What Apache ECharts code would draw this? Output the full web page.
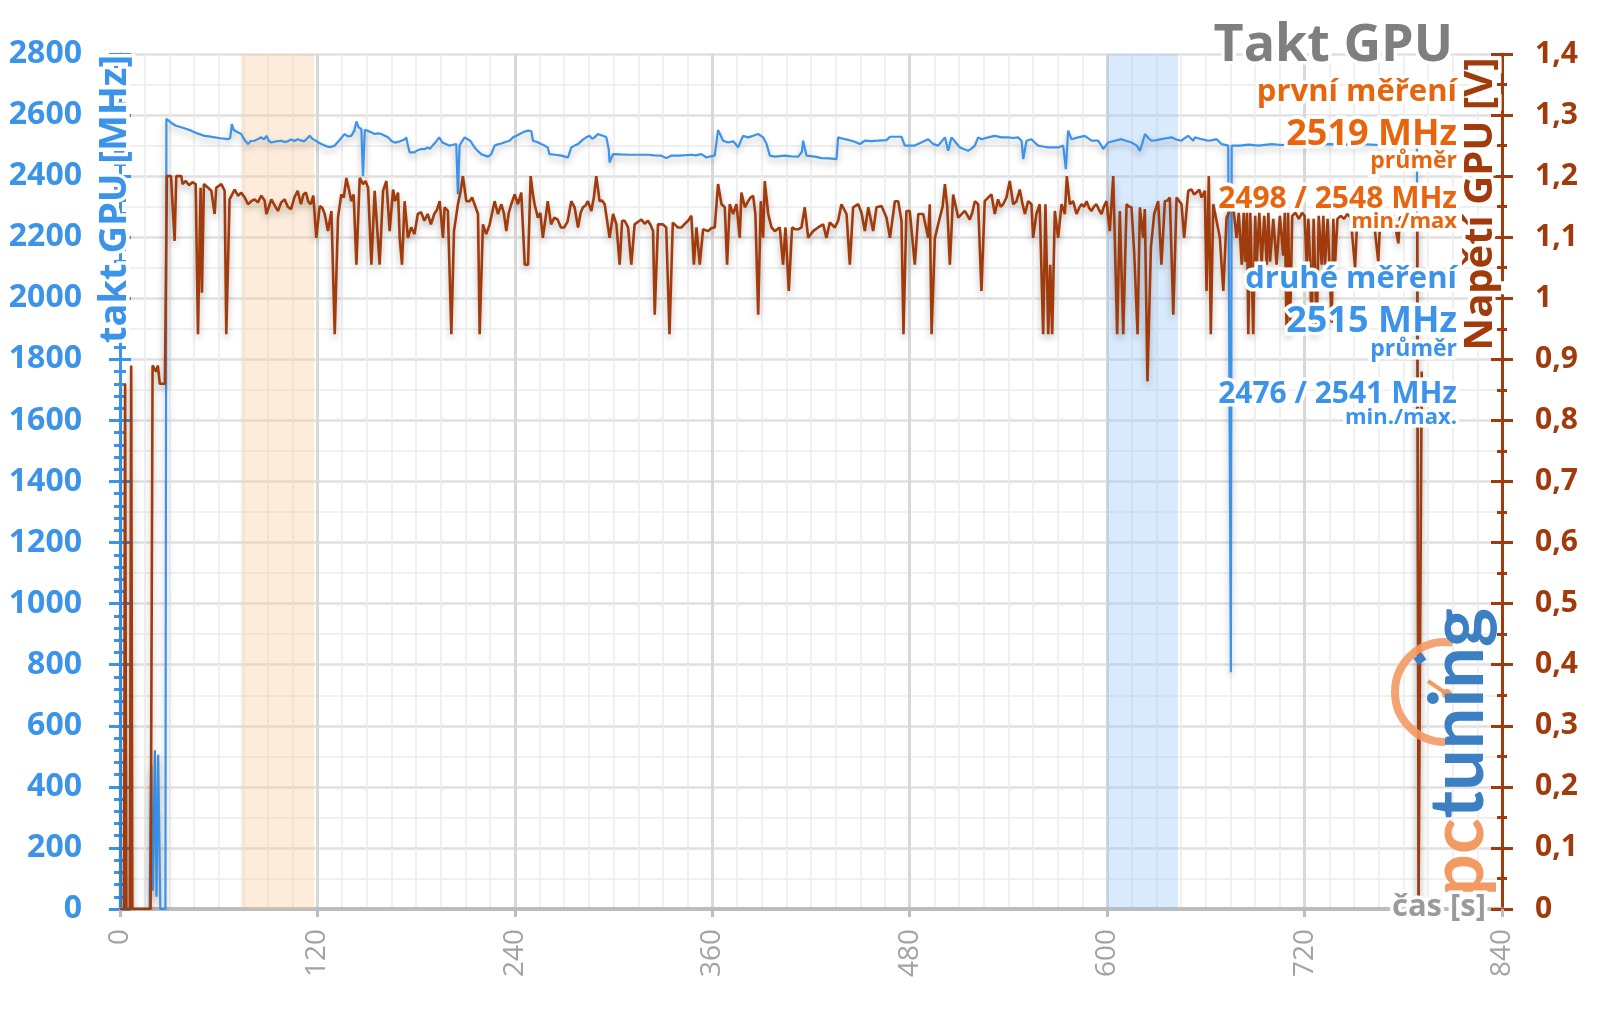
<!DOCTYPE html>
<html><head><meta charset="utf-8">
<script src="https://cdn.jsdelivr.net/npm/echarts@6/dist/echarts.min.js"></script>
<style>html,body{margin:0;padding:0;background:#fff}#c{width:1600px;height:1009px}</style>
</head><body><div id="c"></div>
<script>
// ---- data (time [s], value) ----
const xTickStep = 120;            // s
const leftMax = 2800, leftStep = 200;   // MHz
const rightMax = 1.4, rightStep = 0.1;  // V
const bandOrange = [73.5, 118];
const bandBlue = [600, 643];

// GPU clock [MHz]
const blueA = [[0,0],[2.2,0],[3,490],[3.8,0],[18,0],[19,470],[20,60],[21.2,520],[22.2,40],[23.2,505],[24.5,0],[27.6,0],[28.2,2588],[31,2575],[34,2565],[37.2,2560],[40,2555],[43.3,2549],[47,2540],[51.4,2532],[54,2530],[57.5,2527],[61,2524],[65.6,2521],[67,2525],[68,2571],[69,2552],[71,2545],[73.7,2538],[75.5,2520],[77.8,2505],[79.5,2515],[81.8,2516],[84,2522],[85.9,2527],[87.5,2520],[89,2532],[90.5,2515],[92,2510],[95,2514],[98,2516],[100,2512],[102,2514],[104,2520],[106,2515],[108,2521],[110,2517],[112,2514],[114,2525],[115.3,2532],[117,2522],[118.3,2518],[120,2512],[122.4,2505],[124.5,2500],[126.4,2496],[128.5,2496],[130.5,2500],[133,2515],[135,2528],[136.6,2538],[138.5,2530],[140.6,2532],[142.5,2550],[143.7,2579],[145,2560],[146.7,2554],[147.7,2401],[148.8,2552],[149.7,2549],[152,2545],[154.8,2538],[156.8,2540],[158.8,2538],[161,2532],[162.9,2527],[165,2515],[167,2510],[169,2512]];
const blueB = [[171,2516],[173,2520],[174,2527],[175,2500],[176,2478],[179,2478],[181,2485],[183,2489],[185,2488],[187,2494],[188.5,2490],[190,2500],[192,2512],[194,2527],[196,2510],[198,2505],[200,2500],[202,2502],[204.4,2505],[205.4,2341],[206.4,2500],[208,2515],[209.5,2527],[210.5,2532],[213,2515],[215.5,2494],[217.5,2482],[219.6,2472],[221.6,2468],[223.7,2464],[225.7,2472],[227.7,2500],[229.7,2504],[231.8,2507],[234.3,2512],[236.8,2516],[238.9,2527],[241,2532],[243,2538],[245.5,2545],[248,2549],[250,2547],[251,2516],[253.5,2512],[256,2505],[258,2500],[260,2494],[261,2472],[264.5,2470],[268.2,2467],[270.3,2464],[272.3,2461],[274.3,2494],[276.3,2500],[278.4,2505],[281,2518],[283.4,2527],[285.5,2532],[287,2522],[288.5,2527],[290.5,2538],[292,2535],[293.6,2532],[295.6,2527],[297,2490],[297.6,2445],[299.7,2472],[304,2471],[308.8,2470],[314,2470],[321,2470],[325,2468],[329,2467],[332,2459],[335,2467],[340,2467]];
const blueC = [[347.3,2470],[350,2468],[353.4,2472],[356.5,2461],[359,2465],[361.5,2467],[363.5,2551],[366.6,2516],[369.6,2510],[372.7,2514],[374.2,2505],[375.7,2494],[378.7,2532],[381.8,2527],[384.8,2532],[387.9,2538],[390.9,2527],[393,2505],[395,2467],[398,2464],[404,2467],[408,2465],[412.2,2464],[414.5,2480],[415.2,2516],[416.3,2490],[417.3,2467],[422.3,2464],[426.4,2459],[431,2458],[435.5,2456],[436.5,2527],[440.6,2521],[444.6,2516],[447,2512],[449.7,2505],[452.7,2516],[456.5,2515],[460.8,2516],[465.9,2518],[468,2529],[472,2529],[475,2529],[477,2500],[480,2500],[483,2500],[487,2510],[491.2,2521],[494.3,2505],[497.3,2500],[501.4,2527],[503.4,2483],[505.4,2527],[508,2510]];
const blueD = [[510.5,2494],[511.5,2489],[515.5,2483],[517.5,2490],[519.6,2500],[521.6,2527],[523.6,2521],[527.7,2527],[531.7,2532],[535.8,2527],[539.8,2527],[543,2525],[545.9,2527],[548,2515],[549,2456],[551,2516],[554,2521],[556,2510],[558,2500],[561,2497],[564.2,2494],[567,2494],[570.2,2494],[573.3,2500],[574.9,2423],[576.3,2549],[578.3,2521],[582.4,2527],[586.4,2532],[590.5,2516],[594.5,2516],[596.5,2500],[597.6,2489],[600.6,2510],[604.7,2516],[608.7,2521],[611.8,2515],[614.8,2510],[618,2500],[619.9,2483],[621.5,2510],[623,2538],[625,2525],[627,2516],[630,2518],[633,2521],[636,2524],[639.1,2527],[642,2520],[645.2,2516],[647.3,2525],[649.3,2532],[652.3,2516],[653.3,2527],[657.4,2521],[661.4,2516],[664,2518],[666.5,2521],[669.5,2505],[673.6,2500],[674.8,2500],[675.2,775],[675.7,2500],[676.6,2500],[680.7,2500]];
const blueE = [[686,2503],[692,2500],[700,2505],[706,2502],[715,2505],[725,2503],[735,2505],[745,2503],[755,2505],[765,2502],[775,2505],[785,2503],[788.3,2500],[789.3,0]];

// GPU voltage [V]
const brownA = [[0,0],[2.5,0],[3.1,0.86],[3.8,0],[6,0],[6.8,0.89],[7.5,0],[18.6,0],[19.8,0.89],[21,0.89],[22,0.88],[23,0.89],[24.2,0.86],[27.3,0.86],[28.5,1.2],[31,1.2],[33.2,1.094],[34.2,1.2],[37.3,1.2],[38,1.187],[40,1.192],[42,1.185],[44,1.19],[46,1.187],[47.4,0.941],[49,1.181],[49.8,1.009],[51,1.187],[53.5,1.181],[55.5,1.176],[57.5,1.138],[58.5,1.181],[61.6,1.187],[63.6,1.176],[64.6,0.941],[65.6,0.941],[66.6,1.162],[69.7,1.178],[71.7,1.168],[73.7,1.173],[75.8,1.165],[77.8,1.154],[79.8,1.159],[81.8,1.162],[83.8,1.157],[85.9,1.168],[87.9,1.16],[89,1.138],[92,1.162],[94,1.152],[96,1.143],[98,1.157],[100,1.162],[102,1.15],[104,1.146],[106,1.165],[108,1.176],[110,1.154],[111.5,1.17],[113,1.173],[114.5,1.158],[116,1.154],[117.5,1.168],[119.3,1.099],[121.4,1.151],[123,1.148],[124.4,1.138],[126.4,1.11],[128.5,1.143],[130.5,0.941],[132.5,1.132],[134.5,1.17],[136,1.165],[137.6,1.197],[139,1.18],[140.6,1.159],[142,1.17],[143.7,1.055],[145.7,1.197],[147.7,1.187],[149.2,1.192],[150.8,1.181],[152.8,1.055],[154.8,1.176],[157.8,1.055],[159.9,1.176],[161.9,1.192],[163.9,1.11],[166,1.178],[167.2,1.159],[169,1.173]];
const brownB = [[170,1.099],[171.4,1.055],[173,1.159],[175,1.099],[177,1.116],[179,1.105],[181,1.138],[183,1.141],[185,1.127],[187,1.138],[189,1.121],[191,1.138],[192.7,1.145],[194.3,1.159],[196.3,1.099],[197.3,1.149],[199.3,1.143],[201.4,0.941],[203,1.11],[205.4,1.154],[207,1.175],[208.4,1.2],[210.5,1.159],[212.5,1.159],[214,1.165],[215.5,1.154],[217.6,1.138],[218.6,0.941],[220.6,1.121],[222.6,1.105],[224.7,1.121],[226.2,1.14],[227.7,1.159],[229.7,1.138],[231.8,1.154],[233.3,1.14],[234.8,1.11],[236.3,1.14],[237.8,1.154],[239.9,1.17],[241.9,1.154],[243.9,1.173],[246,1.055],[248,1.055],[249.6,1.2],[251,1.17],[252,1.154],[254,1.132],[255.5,1.14],[257,1.099],[259,1.138],[260,1.159],[262,1.121],[264,1.132],[266,1.129],[268,1.116],[270,1.116],[272,1.125],[274.3,1.159],[276.3,1.149],[278.4,1.116],[280,1.14],[281.4,1.149],[283,1.152],[284.4,1.159],[286.5,1.143],[288,1.165],[289.5,1.2],[291.5,1.159],[293,1.16],[294.6,1.154],[297.6,1.099],[299.7,1.138],[301.7,1.121],[303.7,1.055],[305.2,1.127],[306.7,1.127],[308.8,1.116],[310.8,1.055],[312.8,1.121],[314.8,1.125],[316.9,1.129],[318.9,1.122],[320.9,1.127],[322.5,1.12],[324,1.11],[325,0.973],[327,1.121],[330,1.121],[332,1.116],[334,0.941],[336,1.124],[339,1.116]];
const brownC = [[341.3,1.116],[343.3,1.122],[345.3,1.127],[347.3,1.135],[348.8,1.055],[350.4,1.116],[352.4,1.055],[354.4,1.113],[357.5,1.11],[359.5,1.115],[361.5,1.116],[363.5,1.187],[365.6,1.154],[367.6,1.149],[369,1.055],[370.6,1.154],[372.7,1.138],[374.7,1.154],[376.7,1.099],[377.7,1.173],[379.8,1.149],[381.8,1.159],[383.3,1.165],[384.8,1.168],[386.2,1.138],[387.9,0.973],[389.5,1.159],[390.9,1.099],[391.9,1.192],[394,1.138],[396,1.116],[398,1.11],[401,1.116],[403,1.055],[404.5,1.116],[406.5,1.012],[408.5,1.116],[410.5,1.113],[412.2,1.113],[414.2,1.116],[416.2,1.149],[418.3,1.099],[421.3,1.11],[424.3,1.116],[427.4,1.121],[429.4,1.099],[431.4,1.124],[434.5,1.116],[436.5,1.127],[438.5,1.154],[441.6,1.138],[443.6,1.055],[445.6,1.149],[448.7,1.154],[450.7,1.14],[452.7,1.11],[454.8,1.149],[457.8,1.11],[459.8,1.149],[462.9,1.151],[465.9,1.132],[468,1.099],[471,1.159],[473,1.159],[475,1.127],[476.2,0.941],[478,1.143],[480,1.143],[483.1,1.055],[485.2,1.138],[488.2,1.138],[491.2,1.099],[492.2,1.154],[493.3,0.941],[495.3,1.099],[498.3,1.132],[500,1.15],[501.4,1.187],[502.8,1.15],[504.4,1.055],[506.4,1.17],[509.5,1.132]];
const brownD = [[513.5,1.143],[516.5,1.129],[518,1.14],[519.6,1.159],[521.6,1.154],[523.6,1.012],[525.6,1.159],[527.7,1.165],[529.7,1.17],[531.7,1.138],[533.7,1.162],[535.2,1.15],[536.8,1.154],[538.8,1.165],[540.8,1.192],[542.9,1.154],[544.9,1.159],[546.9,1.178],[548.5,1.155],[550,1.138],[552,1.159],[554,1.154],[555,1.099],[557,1.138],[559,1.154],[561.1,0.941],[562.5,1.154],[564.2,0.941],[565.4,1.055],[566.6,0.941],[568.2,1.143],[570.2,1.099],[572.3,1.154],[574.3,1.138],[575.5,1.2],[577.3,1.154],[579.3,1.159],[581.4,1.138],[583,1.148],[584.4,1.154],[586,1.15],[587.5,1.159],[589,1.148],[590.5,1.143],[592,1.15],[593.5,1.154],[595,1.145],[596.6,1.138],[598,1.15],[599.6,1.159],[601.6,1.11],[603.7,1.2],[606.1,0.941],[607.7,1.143],[609.8,0.941],[611.8,1.154],[613.3,1.15],[614.8,1.149],[616.4,1.077],[618.5,0.941],[619.9,1.149],[621.9,1.099],[622.9,1.146],[624.5,0.864],[626.6,1.083],[628.6,1.138],[631,1.159],[633,1.055],[635.1,1.159],[636.6,1.16],[638.1,1.165],[640.2,0.973],[642.2,1.165],[645.2,1.154],[646.8,1.099],[649.3,1.176],[651.3,1.178],[652.8,1.17],[654.3,1.173],[656,1.178],[657.4,1.165],[659.4,1.176],[660.4,1.012],[661.8,1.2],[663,0.941],[664.5,1.154],[666.5,1.127],[668.5,1.099],[670.6,1.012],[672.6,1.132],[674,1.14],[675.6,1.154],[677,1.14],[678.7,1.099]];
const brownE = [[680,1.14],[681.8,1.055],[683,1.14],[683.8,1.06],[685,1.14],[685.8,0.941],[687,1.14],[688.8,0.941],[690,1.135],[690.9,1.055],[692.5,1.14],[693.9,1.055],[695.5,1.135],[697,1.055],[698,1.14],[699,1.06],[701,1.13],[703,1.055],[705,1.135],[707,1.07],[708,1.14],[709.1,0.941],[710,1.14],[711.1,0.941],[712.5,1.135],[714.5,1.14],[716.5,1.13],[718.5,1.14],[720,1.135],[721.3,1.055],[722.3,1.13],[723.3,1.06],[724.3,0.941],[725.5,1.13],[727.4,0.941],[728.6,1.135],[730.4,1.055],[731.4,1.135],[732.4,1.055],[734,1.13],[736.5,0.96],[737.5,1.13],[738.5,1.055],[740,1.13],[742,1.135],[744,1.13],[746,1.138],[748,1.132],[750.7,1.05],[752,1.13],[754,1.135],[756,1.13],[758,1.138],[760,1.133],[762,1.13],[764.8,1.06],[766,1.13],[768,1.135],[770,1.132],[772,1.13],[774,1.135],[777,1.09],[778,1.133],[780,1.13],[782,1.135],[784,1.13],[786,1.13],[788.5,1.12],[789.3,0.02],[790.3,0.02],[791.2,0.88]];

const blueData = [].concat(blueA, blueB, blueC, blueD, blueE);
const brownData = [].concat(brownA, brownB, brownC, brownD, brownE);

// ---- styling ----
const BLUE = '#3c93ea', BROWN = '#a23b0c', ORANGE = '#e8650f', GRAY = '#a3a3a3';
const FF = '"Open Sans", "Noto Sans", sans-serif';
const shadow = {shadowColor:'rgba(0,0,0,0.28)', shadowBlur:7, shadowOffsetY:4};
const halo = {stroke:'#fff', lineWidth:7};

function txt(text, x, y, size, color, extra){
  return Object.assign({type:'text', x:x, y:y, z:100,
    style:Object.assign({text:text, fill:color, font:'bold '+size+'px '+FF,
      textAlign:'right', textVerticalAlign:'middle'}, halo)}, extra||{});
}
function vtxt(text, x, y, size, color){
  return {type:'text', x:x, y:y, z:100, rotation:Math.PI/2,
    style:Object.assign({text:text, fill:color, font:'bold '+size+'px '+FF,
      textAlign:'center', textVerticalAlign:'middle'}, halo)};
}

const chart = echarts.init(document.getElementById('c'), null, {renderer:'canvas'});
const yBase = {type:'value', min:0, splitLine:{show:false}};
chart.setOption({
  animation:false,
  backgroundColor:'#fff',
  grid:{left:120, right:98, top:54, bottom:100, containLabel:false, outerBoundsMode:'none'},
  xAxis:{type:'value', min:0, max:840, interval:xTickStep,
    axisLine:{show:true, onZero:false, lineStyle:{color:'#bdbdbd', width:4}},
    axisTick:{show:true, length:8, lineStyle:{color:'#bdbdbd', width:3}},
    axisLabel:{rotate:90, margin:20, color:GRAY, fontSize:28, fontFamily:FF},
    splitLine:{show:true, lineStyle:{color:'#d8d8d8', width:3}},
    minorTick:{show:false, splitNumber:8},
    minorSplitLine:{show:true, lineStyle:{color:'#ebebeb', width:1.5}}
  },
  yAxis:[
    Object.assign({}, yBase, {max:leftMax, interval:leftStep, position:'left',
      axisLine:{show:true, lineStyle:{color:BLUE, width:3}},
      axisTick:{show:true, length:11, lineStyle:{color:BLUE, width:3}},
      minorTick:{show:true, splitNumber:5, length:6, lineStyle:{color:BLUE, width:3}},
      axisLabel:{margin:38, color:BLUE, fontSize:32, fontWeight:'bold', fontFamily:FF,
        formatter:function(v){return String(v);}}}),
    Object.assign({}, yBase, {max:rightMax, interval:rightStep, position:'right',
      axisLine:{show:true, lineStyle:{color:BROWN, width:3}},
      axisTick:{show:true, length:11, lineStyle:{color:BROWN, width:3}},
      minorTick:{show:true, splitNumber:2, length:5, lineStyle:{color:BROWN, width:3}},
      splitLine:{show:true, lineStyle:{color:'#e0e0e0', width:2.5}},
      minorSplitLine:{show:true, lineStyle:{color:'#ebebeb', width:1.5}},
      axisLabel:{margin:33, color:BROWN, fontSize:30, fontWeight:'bold', fontFamily:FF,
        formatter:function(v){return String(Math.round(v*10)/10).replace('.', ',');}}}),
    Object.assign({}, yBase, {max:leftMax, interval:leftStep, position:'left',
      axisLine:{show:false}, axisLabel:{show:false},
      axisTick:{show:true, inside:true, length:11, lineStyle:{color:BLUE, width:3}},
      minorTick:{show:true, splitNumber:5, length:6, lineStyle:{color:BLUE, width:3}}}),
    Object.assign({}, yBase, {max:rightMax, interval:rightStep, position:'right',
      axisLine:{show:false}, axisLabel:{show:false},
      axisTick:{show:true, inside:true, length:11, lineStyle:{color:BROWN, width:3}},
      minorTick:{show:true, splitNumber:2, length:5, lineStyle:{color:BROWN, width:3}}})
  ],
  series:[
    {name:'takt GPU', type:'line', yAxisIndex:0, data:blueData, showSymbol:false, symbol:'none',
     lineStyle:Object.assign({color:BLUE, width:2.2}, shadow), silent:true, z:3,
     markArea:{silent:true, data:[
       [{xAxis:bandOrange[0], itemStyle:{color:'rgba(250,196,150,0.33)'}},{xAxis:bandOrange[1]}],
       [{xAxis:bandBlue[0], itemStyle:{color:'rgba(150,196,246,0.36)'}},{xAxis:bandBlue[1]}]
     ]}},
    {name:'Napětí GPU', type:'line', yAxisIndex:1, data:brownData, showSymbol:false, symbol:'none',
     lineStyle:Object.assign({color:BROWN, width:2.6}, shadow), silent:true, z:4}
  ],
  graphic:[
    vtxt('takt GPU [MHz]', 115, 199, 38, BLUE),
    vtxt('Napětí GPU [V]', 1481, 204, 40, BROWN),
    txt('čas [s]', 1486, 907, 31, '#9a9a9a'),
    txt('Takt GPU', 1453, 46, 52, '#7f7f7f'),
    txt('první měření', 1457, 92, 31, ORANGE),
    txt('2519 MHz', 1457, 135, 36, ORANGE),
    txt('průměr', 1457, 161, 23, ORANGE),
    txt('2498 / 2548 MHz', 1457, 199, 30, ORANGE),
    txt('min./max', 1457, 222, 22, ORANGE),
    txt('druhé měření', 1457, 279, 31, BLUE),
    txt('2515 MHz', 1457, 322, 36, BLUE),
    txt('průměr', 1457, 349, 23, BLUE),
    txt('2476 / 2541 MHz', 1457, 394, 30, BLUE),
    txt('min./max.', 1457, 418, 22, BLUE),
    // pctuning watermark
    {type:'arc', z:90, shape:{cx:1445, cy:692, r:50, startAngle:Math.PI*0.5, endAngle:Math.PI*1.55, clockwise:true},
     style:{stroke:'#f39a63', lineWidth:8, fill:null, opacity:0.9}},
    {type:'line', z:91, shape:{x1:1447, y1:694, x2:1428, y2:681}, style:{stroke:'#f39a63', lineWidth:4}},
    {type:'circle', z:91, shape:{cx:1447, cy:694, r:5}, style:{fill:'#f39a63'}},
    {type:'rect', z:92, x:1420, y:659, rotation:0.6, shape:{x:-5, y:-4, width:10, height:8}, style:{fill:'#3c7fc3'}},
    {type:'text', z:92, x:1459, y:752, rotation:Math.PI/2,
     style:{text:'{a|pc}{b|tuning}', textAlign:'center', textVerticalAlign:'middle',
       rich:{a:{fill:'#f39a63', font:'bold 74px Lato'}, b:{fill:'#3c7fc3', font:'bold 74px Lato'}}}}
  ]
});
</script>
</body></html>
